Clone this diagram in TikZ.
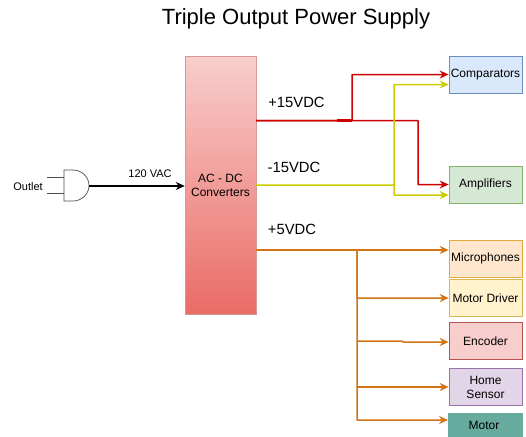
\documentclass[tikz,border=0pt]{standalone}
\usepackage{fontspec}
\setmainfont{Liberation Sans}
\usetikzlibrary{arrows.meta,calc}
\definecolor{redline}{RGB}{204,0,0}
\definecolor{yellowline}{RGB}{204,204,0}
\definecolor{orangeline}{RGB}{208,116,20}
\definecolor{convtop}{RGB}{248,206,204}
\definecolor{convbottom}{RGB}{234,107,102}
\definecolor{compfill}{RGB}{218,232,252}
\definecolor{compline}{RGB}{108,142,191}
\definecolor{ampfill}{RGB}{213,232,212}
\definecolor{ampline}{RGB}{130,179,102}
\definecolor{micfill}{RGB}{255,230,204}
\definecolor{micline}{RGB}{230,170,60}
\definecolor{driverfill}{RGB}{255,242,204}
\definecolor{driverline}{RGB}{214,182,86}
\definecolor{encfill}{RGB}{248,206,204}
\definecolor{encline}{RGB}{184,84,80}
\definecolor{homefill}{RGB}{225,213,231}
\definecolor{homeline}{RGB}{150,115,166}
\definecolor{motorfill}{RGB}{103,171,159}
\tikzset{load/.style={draw=#1,line width=.7pt,minimum width=73,minimum height=37,inner sep=0pt,
  align=center,font=\fontsize{12}{14}\selectfont},
 wire/.style={-{Stealth[length=9pt,width=8pt]},line width=1.5pt,rounded corners=.5pt},
 railtext/.style={font=\fontsize{14.8}{16}\selectfont},
 smalltext/.style={font=\fontsize{11}{13}\selectfont}}
\begin{document}
\begin{tikzpicture}[x=1pt,y=-1pt]
\clip (0,0) rectangle (526,436);
\useasboundingbox (0,0) rectangle (526,436);
\node[font=\fontsize{22}{26}\selectfont] (title) at (296,18.5) {Triple Output Power Supply};
% converter block
\node[draw=encline!60,top color=convtop,bottom color=convbottom,minimum width=71,minimum height=258,
 inner sep=0pt,align=center,font=\fontsize{12}{14}\selectfont] (conv) at (220.5,185) {AC - DC\\Converters};
% loads
\node[load=compline,fill=compfill] (comp) at (485.5,74.5) {Comparators};
\node[load=ampline,fill=ampfill] (amp) at (485.5,184.5) {Amplifiers};
\node[load=micline,fill=micfill] (mic) at (485.5,258.5) {Microphones};
\node[load=driverline,fill=driverfill] (driver) at (485.5,298) {Motor Driver};
\node[load=encline,fill=encfill] (enc) at (485.5,341) {Encoder};
\node[load=homeline,fill=homefill] (home) at (485.5,387) {Home\\Sensor};
% outlet
\node[smalltext] (outlet) at (28,187) {Outlet};
\coordinate (gatea) at (47,177);
\coordinate (gateb) at (47,193);
\coordinate (gateout) at (89,186);
\draw[black!70,line width=.7pt] (gatea)--(64,177) (gateb)--(64,193);
\draw[black!70,line width=.7pt] (64,170)--(73,170) arc (-90:90:16 and 15.5)--(64,201)--cycle;
\draw[wire,black] (gateout)--(conv.west|-gateout);
\node[smalltext] (vac) at (150,174) {120 VAC};
% rails
\node[railtext] (plus) at (296.5,102) {+15VDC};
\node[railtext] (minus) at (294,167) {-15VDC};
\node[railtext] (five) at (292,229) {+5VDC};
\coordinate (redout) at (conv.east|-0,120.5);
\coordinate (yellowout) at (conv.east|-0,185);
\coordinate (orangeout) at (conv.east|-0,250);
\coordinate (redup) at (352,120.5);
\coordinate (reddown) at (418,120.5);
\coordinate (yellowsplit) at (394,185);
\coordinate (orangesplit) at (357,250);
\draw[wire,redline] (redout)--(redup)--(redup|-comp.west)--(comp.west);
\draw[redline,line width=2.4pt] (337,120.5)--(redup);
\draw[wire,redline] (redout)--(reddown)--(reddown|-amp.west)--(amp.west);
\draw[wire,yellowline] (yellowout)--(yellowsplit)--(yellowsplit|-0,84.5)--($(comp.west)+(0,10)$);
\draw[wire,yellowline] (yellowsplit)--(yellowsplit|-0,195)--($(amp.west)+(0,10.5)$);
\draw[wire,orangeline] (orangeout)--(mic.west|-orangeout);
\draw[wire,orangeline] (orangesplit)--(orangesplit|-driver.west)--(driver.west);
\draw[wire,orangeline] (orangesplit|-0,341)--(402,341)--(403,342)--($(enc.west)+(0,1)$);
\draw[wire,orangeline] (orangesplit|-home.west)--(home.west);
\coordinate (motorin) at (448,420);
\draw[wire,orangeline] (orangesplit)--(orangesplit|-motorin)--(motorin);
\node[load=motorfill,fill=motorfill,minimum width=74] (motor) at (485,431.5) {};
\node[font=\fontsize{12}{14}\selectfont] (motortext) at (484,425) {Motor};
\end{tikzpicture}
\end{document}
